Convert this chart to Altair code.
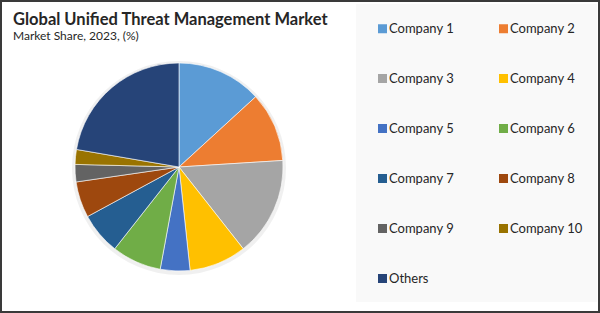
import altair as alt
import pandas as pd

companies = ["Company 1", "Company 2", "Company 3", "Company 4", "Company 5",
             "Company 6", "Company 7", "Company 8", "Company 9", "Company 10", "Others"]
shares = [13.2, 10.8, 15.4, 8.9, 4.6, 7.7, 6.5, 5.6, 2.7, 2.3, 22.3]
colors = ["#5B9BD5", "#ED7D31", "#A5A5A5", "#FFC000", "#4472C4", "#70AD47",
          "#255E91", "#9E480E", "#636363", "#997300", "#264478"]
title_text = "Global Unified Threat Management Market"
subtitle_text = "Market Share, 2023, (%)"

df = pd.DataFrame({"company": companies, "share": shares, "idx": list(range(len(companies)))})

FONT = "Lato"

panel = alt.Chart(pd.DataFrame({"a": [0]})).mark_rect(fill="#f9f9f9").encode(
    x=alt.value(356), x2=alt.value(597), y=alt.value(4), y2=alt.value(302)
)

shadow = alt.Chart(pd.DataFrame({"a": [0]})).mark_arc(
    outerRadius=107, fill="#000000", opacity=0.06
).encode(theta=alt.value(6.2832), x=alt.value(179), y=alt.value(168))

pie = alt.Chart(df).mark_arc(outerRadius=104, stroke="#ffffff", strokeWidth=0.6).encode(
    theta=alt.Theta("share:Q", stack=True),
    order=alt.Order("idx:Q"),
    color=alt.Color(
        "company:N",
        scale=alt.Scale(domain=companies, range=colors),
        sort=companies,
        legend=alt.Legend(
            title=None, orient="none", legendX=376, legendY=22, columns=2,
            direction="horizontal",
            symbolType="square", symbolSize=81, symbolStrokeWidth=0,
            labelFont=FONT, labelFontSize=13, labelColor="#262626",
            columnPadding=42, rowPadding=36, labelOffset=0, padding=0,
        ),
    ),
    x=alt.value(179), y=alt.value(167),
)

title = alt.Chart(pd.DataFrame({"t": [title_text]})).mark_text(
    font=FONT, fontSize=16.5, fontWeight="bold", color="#262626", align="left", baseline="alphabetic"
).encode(text="t:N", x=alt.value(13), y=alt.value(25))

subtitle = alt.Chart(pd.DataFrame({"t": [subtitle_text]})).mark_text(
    font=FONT, fontSize=12, color="#262626", align="left", baseline="alphabetic"
).encode(text="t:N", x=alt.value(13), y=alt.value(40))

chart = alt.layer(panel, shadow, pie, title, subtitle).properties(
    width=600, height=313, padding=0, autosize=alt.AutoSizeParams(type="none"),
    background="#ffffff",
).configure_view(stroke="#3a3a3a", strokeWidth=4)

chart.save("out.html", embed_options={"renderer": "svg", "actions": False})
